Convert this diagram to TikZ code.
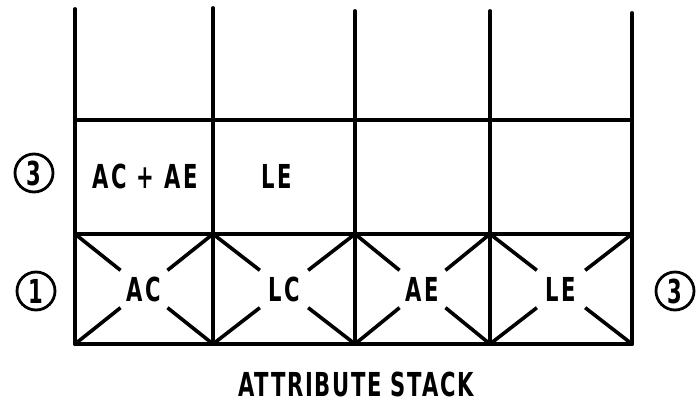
\documentclass[tikz,border=0pt]{standalone}
\usepackage{fontspec}
\setmainfont[FakeStretch=0.64,LetterSpace=8]{DejaVu Sans}
\usetikzlibrary{calc}
\newcommand\lab{\fontsize{33}{33}\selectfont\bfseries}
\begin{document}
\begin{tikzpicture}[x=1pt,y=-1pt,
  gridline/.style={line width=3.8pt, line cap=round},
  xseg/.style={line width=3.6pt},
  lbl/.style={font=\lab, inner sep=0pt},
  circnum/.style={circle, draw, line width=2.8pt, minimum size=38pt, inner sep=0pt, font=\lab}]
\useasboundingbox (0,0) rectangle (700,403);
\foreach \i/\x/\yt in {0/75/9,1/213/8,2/355/11,3/490/11,4/632/13} {
  \coordinate (t\i) at (\x,\yt);
  \coordinate (m\i) at (\x,120);
  \coordinate (r\i) at (\x,234);
  \coordinate (b\i) at (\x,344);
  \draw[gridline] (t\i) -- (b\i);
}
\draw[gridline] (m0) -- (m4);
\draw[gridline] (r0) -- (r4);
\draw[gridline] (b0) -- (b4);
\foreach \i/\j in {0/1,1/2,2/3,3/4} {
  \coordinate (c\i) at ($(r\i)!0.5!(b\j)$);
  \draw[xseg] (r\i) -- ($(r\i)!0.66!(c\i)$);
  \draw[xseg] (r\j) -- ($(r\j)!0.66!(c\i)$);
  \draw[xseg] (b\i) -- ($(b\i)!0.66!(c\i)$);
  \draw[xseg] (b\j) -- ($(b\j)!0.66!(c\i)$);
}
\node[lbl] (acae) at (145,176) {AC + AE};
\node[lbl] (le2) at (277,176) {LE};
\node[lbl] (ac) at (c0) {AC};
\node[lbl] (lc) at (c1) {LC};
\node[lbl] (ae) at (c2) {AE};
\node[lbl] (le) at (c3) {LE};
\node[circnum] (n3a) at (34,173) {3};
\node[circnum] (n1) at (36,291) {1};
\node[circnum] (n3b) at (675,291) {3};
\node[lbl] (title) at (356,384) {\addfontfeature{LetterSpace=5}ATTRIBUTE STACK};
\end{tikzpicture}
\end{document}
